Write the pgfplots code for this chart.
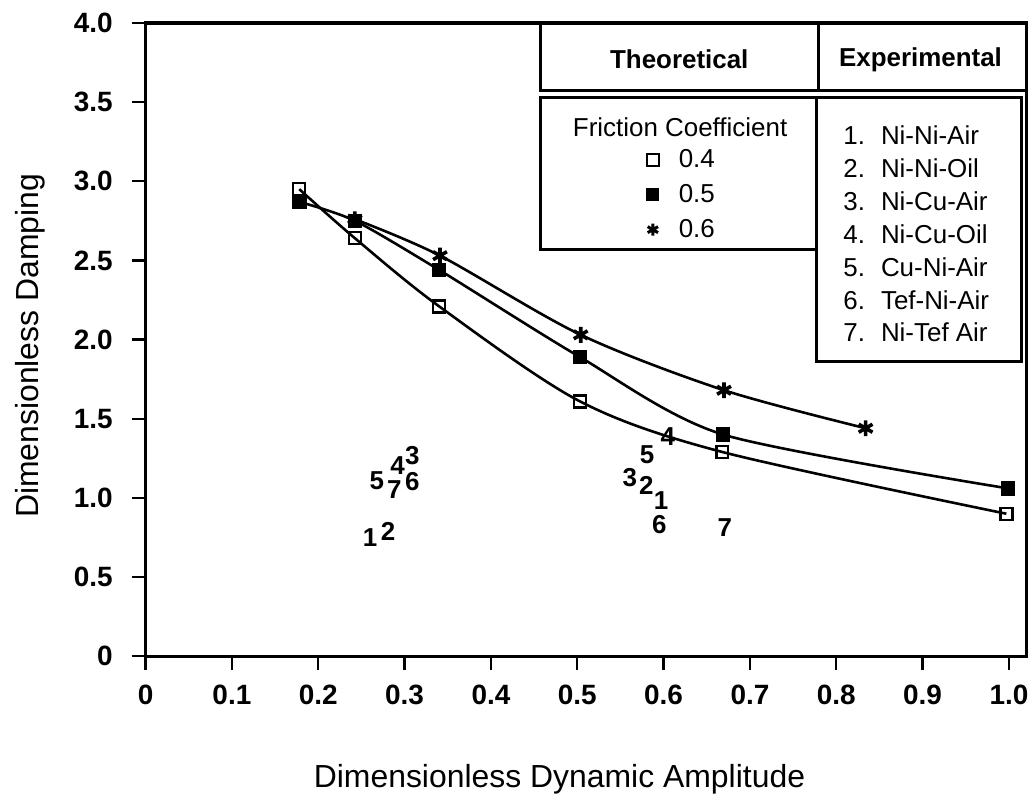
\documentclass[border=0pt]{standalone}
\usepackage{fontspec}
\setmainfont{Liberation Sans}
\usepackage{pgfplots}
\usepackage{pgfplotstable}
\pgfplotsset{compat=1.18}

% theoretical curves, one table per friction coefficient
\pgfplotstableread{
x y
0.178 2.95
0.2425 2.64
0.340 2.21
0.503 1.61
0.668 1.29
0.997 0.90
}\mufour
\pgfplotstableread{
x y
0.178 2.87
0.2425 2.75
0.340 2.44
0.503 1.89
0.669 1.40
0.999 1.06
}\mufive
\pgfplotstableread{
x y
0.2425 2.76
0.341 2.53
0.504 2.03
0.670 1.68
0.834 1.44
}\musix
% experimental points, labelled by case number
\pgfplotstableread{
x y lab
0.260 0.75 1
0.281 0.79 2
0.309 1.27 3
0.292 1.205 4
0.268 1.11 5
0.309 1.105 6
0.288 1.05 7
0.597 0.985 1
0.580 1.08 2
0.561 1.13 3
0.605 1.39 4
0.581 1.27 5
0.595 0.83 6
0.671 0.81 7
}\expdata

\begin{document}
\begin{tikzpicture}
\begin{axis}[
  width=441.5pt,height=317.5pt,scale only axis,
  xmin=0,xmax=1.02,ymin=0,ymax=4,
  clip=false,
  axis line style={line width=1.6pt},
  xtick={0,0.1,0.2,0.3,0.4,0.5,0.6,0.7,0.8,0.9,1.0},
  xticklabels={0,0.1,0.2,0.3,0.4,0.5,0.6,0.7,0.8,0.9,1.0},
  ytick={0,0.5,1,1.5,2,2.5,3,3.5,4},
  yticklabels={0,0.5,1.0,1.5,2.0,2.5,3.0,3.5,4.0},
  tick pos=left,tick align=outside,
  major tick length=7pt,
  major tick style={line width=1.2pt,black},
  tick label style={font=\fontsize{14}{16}\selectfont\bfseries},
  xticklabel style={yshift=-4pt},
  yticklabel style={xshift=-6pt},
  xlabel={Dimensionless Dynamic Amplitude},
  ylabel={Dimensionless Damping},
  label style={font=\fontsize{16}{19}\selectfont},
  xlabel style={at={(axis description cs:0.47,-0.195)},anchor=center},
  ylabel style={at={(axis description cs:-0.131,0.49)},anchor=center},
  legend style={at={(rel axis cs:0.562,0.812)},anchor=north west,
    draw=none,fill=none,font=\fontsize{13}{15}\selectfont,
    row sep=4pt,column sep=9pt,
    nodes={inner sep=1pt,text height=9.5pt,text depth=2pt}},
  legend cell align=left,
]
% fixes the picture's extent to the reference proportions
\path (rel axis cs:-0.1653,-0.2378) rectangle (rel axis cs:1.0068,1.0362);

\addplot[forget plot,black,line width=1.3pt,smooth,mark=square,
  mark size=3pt,mark options={solid,fill=white,line width=1.2pt}]
  table[x=x,y=y]{\mufour};
\addplot[forget plot,black,line width=1.3pt,smooth,tension=0.45,mark=square*,
  mark size=3pt,mark options={solid,fill=black}]
  table[x=x,y=y]{\mufive};
\addplot[forget plot,black,line width=1.3pt,smooth,mark=asterisk,
  mark size=4pt,mark options={solid,line width=1.8pt}]
  table[x=x,y=y]{\musix};

\addplot[forget plot,only marks,mark=none,nodes near coords,
  point meta=explicit symbolic,
  nodes near coords style={anchor=center,inner sep=0pt,
    font=\fontsize{13}{15}\selectfont\bfseries}]
  table[x=x,y=y,meta=lab]{\expdata};

\addlegendimage{only marks,mark=square,mark size=3pt,
  mark options={fill=white,line width=1.2pt}}
\addlegendentry{0.4}
\addlegendimage{only marks,mark=square*,mark size=3pt}
\addlegendentry{0.5}
\addlegendimage{only marks,mark=asterisk,mark size=3pt,
  mark options={line width=1.5pt}}
\addlegendentry{0.6}

% legend frames
\draw[line width=1.5pt] (rel axis cs:0.448,1) rectangle (rel axis cs:1,0.893);
\draw[line width=1.5pt] (rel axis cs:0.764,1) -- (rel axis cs:0.764,0.893);
\draw[line width=1.5pt] (rel axis cs:0.448,0.882) rectangle (rel axis cs:0.762,0.643);
\draw[line width=1.5pt] (rel axis cs:0.762,0.882) rectangle (rel axis cs:0.995,0.466);
\node[font=\fontsize{13}{15}\selectfont\bfseries] at (rel axis cs:0.606,0.942) {Theoretical};
\node[font=\fontsize{13}{15}\selectfont\bfseries] at (rel axis cs:0.880,0.942) {Experimental};
\node[font=\fontsize{13}{15}\selectfont] at (rel axis cs:0.607,0.835) {Friction Coefficient};
\node[anchor=base west,inner sep=0pt,font=\fontsize{13}{16.5}\selectfont]
  at (rel axis cs:0.792,0.808) {%
  \begin{tabular}[t]{@{}l@{\hspace{8pt}}l@{}}
  1. & Ni-Ni-Air\\
  2. & Ni-Ni-Oil\\
  3. & Ni-Cu-Air\\
  4. & Ni-Cu-Oil\\
  5. & Cu-Ni-Air\\
  6. & Tef-Ni-Air\\
  7. & Ni-Tef Air
  \end{tabular}};
\end{axis}
\end{tikzpicture}
\end{document}
